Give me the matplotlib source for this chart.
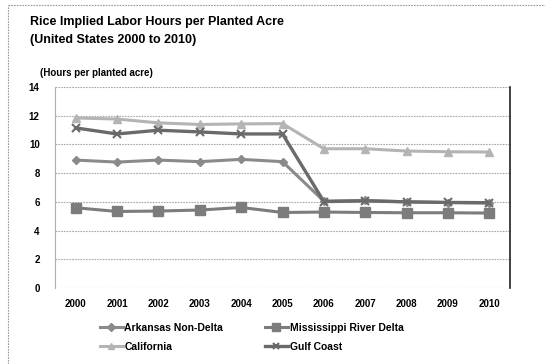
import matplotlib
matplotlib.use("Agg")
import matplotlib.pyplot as plt
from matplotlib.lines import Line2D

years = ["2000", "2001", "2002", "2003", "2004", "2005",
         "2006", "2007", "2008", "2009", "2010"]

arkansas_non_delta = [8.91, 8.77, 8.91, 8.80, 8.96, 8.80, 6.05, 6.10, 6.00, 5.95, 5.92]
mississippi_river_delta = [5.59, 5.33, 5.36, 5.43, 5.61, 5.26, 5.29, 5.26, 5.24, 5.24, 5.22]
california = [11.84, 11.77, 11.50, 11.39, 11.43, 11.45, 9.70, 9.70, 9.54, 9.49, 9.47]
gulf_coast = [11.15, 10.73, 10.99, 10.87, 10.73, 10.73, 6.02, 6.07, 6.00, 5.96, 5.94]

series_names = ["Arkansas Non-Delta", "Mississippi River Delta", "California", "Gulf Coast"]
y_ticks = [0, 2, 4, 6, 8, 10, 12, 14]

plt.rcParams["font.family"] = ["Liberation Sans", "DejaVu Sans"]
plt.rcParams["font.weight"] = "bold"

fig = plt.figure(figsize=(5.45, 3.64), dpi=100)
ax = fig.add_axes([55 / 545, 1 - 288 / 364, 455 / 545, 201 / 364])

x = list(range(len(years)))
styles = [
    dict(color="#8a8a8a", marker="D", markersize=4.5, lw=2.2),
    dict(color="#7c7c7c", marker="s", markersize=7, lw=2.2),
    dict(color="#b4b4b4", marker="^", markersize=6, lw=2.2),
    dict(color="#6a6a6a", marker="x", markersize=6, lw=2.4, mew=1.5),
]
data = [arkansas_non_delta, mississippi_river_delta, california, gulf_coast]

for vals, st in zip(data, styles):
    ax.plot(x, vals, color=st["color"], lw=st["lw"], marker=st["marker"],
            markersize=st["markersize"], markeredgewidth=st.get("mew", 1.0),
            markerfacecolor=st["color"], markeredgecolor=st["color"],
            zorder=3)

ax.set_xlim(-0.5, len(years) - 0.5)
ax.set_ylim(0, 14)
ax.set_yticks(y_ticks)
ax.set_yticklabels([str(v) for v in y_ticks], fontsize=7, fontweight="bold")
ax.set_xticks(x)
ax.set_xticklabels(years, fontsize=7, fontweight="bold")
ax.tick_params(axis="x", length=0, pad=8)
ax.tick_params(axis="y", length=0, pad=11)

for v in y_ticks:
    ax.axhline(v, color="#a8a8a8", lw=0.8, ls=(0, (1.5, 1.0)), zorder=1)

for side in ["top", "bottom"]:
    ax.spines[side].set_visible(False)
ax.spines["left"].set_color("#b0b0b0")
ax.spines["left"].set_linestyle((0, (1.5, 1.0)))
ax.spines["left"].set_linewidth(0.8)
ax.spines["right"].set_color("#222222")
ax.spines["right"].set_linewidth(1.2)

# Titles
fig.text(30 / 545, 1 - 22 / 364, "Rice Implied Labor Hours per Planted Acre",
         fontsize=9, fontweight="bold", va="center", ha="left")
fig.text(30 / 545, 1 - 40 / 364, "(United States 2000 to 2010)",
         fontsize=9, fontweight="bold", va="center", ha="left")
fig.text(40 / 545, 1 - 73 / 364, "(Hours per planted acre)",
         fontsize=7, fontweight="bold", va="center", ha="left")

# Legend, filled row by row: (Arkansas, Mississippi) then (California, Gulf Coast)
handles = []
for st in styles:
    handles.append(Line2D([], [], color=st["color"], lw=st["lw"], marker=st["marker"],
                          markersize=st["markersize"] * 0.8,
                          markeredgewidth=st.get("mew", 1.0),
                          markerfacecolor=st["color"], markeredgecolor=st["color"]))
order = [0, 2, 1, 3]
leg = fig.legend([handles[i] for i in order], [series_names[i] for i in order],
                 loc="upper left", bbox_to_anchor=(100 / 545, 1 - 323 / 364), ncol=2,
                 frameon=False, fontsize=7.5, handlelength=2.2, handletextpad=0.15,
                 columnspacing=4.0, labelspacing=0.85, borderpad=0, borderaxespad=0)
for t in leg.get_texts():
    t.set_fontweight("bold")

# Outer frame edges
fig.add_artist(Line2D([8 / 545, 8 / 545], [0, 1 - 5 / 364], transform=fig.transFigure,
                      color="#9a9a9a", lw=0.8, ls=(0, (1.5, 1.0))))
fig.add_artist(Line2D([8 / 545, 1], [1 - 5 / 364, 1 - 5 / 364], transform=fig.transFigure,
                      color="#9a9a9a", lw=0.8, ls=(0, (1.5, 1.0))))

fig.savefig("out.png", dpi=100)
